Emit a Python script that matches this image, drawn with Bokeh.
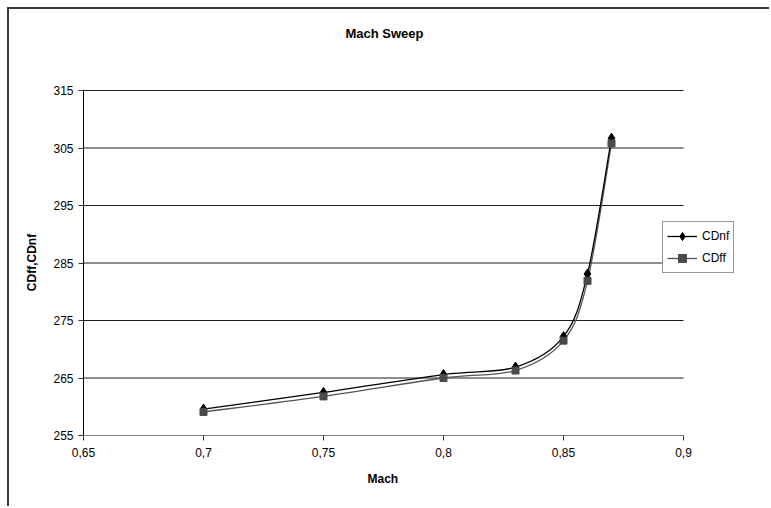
from bokeh.plotting import figure
from bokeh.models import FixedTicker, Legend, LegendItem, Title
from bokeh.embed import file_html
from bokeh.resources import INLINE

mach = [0.70, 0.75, 0.80, 0.83, 0.85, 0.86, 0.87]
cdnf = [259.6, 262.5, 265.6, 266.9, 272.2, 283.1, 306.7]
cdff = [259.1, 261.8, 265.0, 266.3, 271.5, 281.9, 305.8]
x_ticks = [0.65, 0.70, 0.75, 0.80, 0.85, 0.90]
x_tick_labels = ["0,65", "0,7", "0,75", "0,8", "0,85", "0,9"]
y_ticks = [255, 265, 275, 285, 295, 305, 315]

FONT = "Liberation Sans"

# layout (pixels)
W, H = 762, 499
LEFT, TOP, BOTTOM = 74, 80, 73
PLOT_W, PLOT_H = 600, 346          # value area 0.65..0.90 is 600 px wide
frame_w = W - LEFT
x_end = x_ticks[0] + (x_ticks[-1] - x_ticks[0]) * frame_w / PLOT_W
y_end = y_ticks[-1] + (y_ticks[-1] - y_ticks[0]) / (PLOT_H - 1)


def smooth_segments(xs, ys):
    """Bezier control points (Catmull-Rom style, as Excel's smoothed line)."""
    n = len(xs)
    out = {"x0": [], "y0": [], "x1": [], "y1": [], "cx0": [], "cy0": [], "cx1": [], "cy1": []}
    for i in range(n - 1):
        im1 = max(i - 1, 0)
        ip2 = min(i + 2, n - 1)
        out["x0"].append(xs[i]); out["y0"].append(ys[i])
        out["x1"].append(xs[i + 1]); out["y1"].append(ys[i + 1])
        out["cx0"].append(xs[i] + (xs[i + 1] - xs[im1]) / 6.0)
        out["cy0"].append(ys[i] + (ys[i + 1] - ys[im1]) / 6.0)
        out["cx1"].append(xs[i + 1] - (xs[ip2] - xs[i]) / 6.0)
        out["cy1"].append(ys[i + 1] - (ys[ip2] - ys[i]) / 6.0)
    return out


p = figure(width=W, height=H, x_range=(x_ticks[0], x_end), y_range=(y_ticks[0], y_end),
           output_backend="svg", toolbar_location=None, title=None,
           min_border_left=LEFT, min_border_right=0, min_border_top=TOP, min_border_bottom=BOTTOM)
p.styles = {"border-left": "2px solid #3a3a3a", "border-top": "2px solid #3a3a3a",
            "margin-left": "7px", "margin-top": "7px"}

p.outline_line_color = None
p.background_fill_color = "white"

# title (outer) and spacer (next to the plot area)
spacer = Title(text=" ", text_font=FONT, text_font_size="12px", standoff=33)
p.add_layout(spacer, "above")
title = Title(text="Mach Sweep", align="left", offset=262, standoff=0,
              text_font=FONT, text_font_size="13px", text_font_style="bold", text_color="black")
p.add_layout(title, "above")

# axes
p.xaxis.ticker = FixedTicker(ticks=x_ticks)
p.xaxis.major_label_overrides = {t: l for t, l in zip(x_ticks, x_tick_labels)}
p.xaxis.bounds = (x_ticks[0], x_ticks[-1])
p.yaxis.ticker = FixedTicker(ticks=y_ticks)
for ax in (p.xaxis, p.yaxis):
    ax.major_label_text_font = FONT
    ax.major_label_text_font_size = "12px"
    ax.major_label_text_color = "black"
    ax.axis_label_text_font = FONT
    ax.axis_label_text_font_size = "12px"
    ax.axis_label_text_font_style = "bold"
    ax.axis_label_text_color = "black"
    ax.major_tick_out = 5
    ax.major_tick_in = 0
    ax.minor_tick_out = 0
    ax.minor_tick_in = 0
    ax.major_tick_line_color = "#333333"
p.xaxis.axis_line_color = "#7a7a7a"
p.yaxis.axis_line_color = "black"
p.yaxis.axis_label = "CDff,CDnf"
p.xaxis.major_label_standoff = 7
p.yaxis.major_label_standoff = 5
p.yaxis.axis_label_standoff = 11

xtitle = Title(text="Mach", align="left", offset=284, standoff=24, vertical_align="top",
               text_font=FONT, text_font_size="12px", text_font_style="bold", text_color="black")
p.add_layout(xtitle, "below")

p.xgrid.grid_line_color = None
p.ygrid.grid_line_color = None
n_y = len(y_ticks)
p.segment(x0=[x_ticks[0]] * n_y, x1=[x_ticks[-1]] * n_y, y0=y_ticks, y1=y_ticks,
          line_color="#1e1e1e", line_width=1)

# series
s_nf = smooth_segments(mach, cdnf)
s_ff = smooth_segments(mach, cdff)
b_ff = p.bezier(x0=s_ff["x0"], y0=s_ff["y0"], x1=s_ff["x1"], y1=s_ff["y1"],
                cx0=s_ff["cx0"], cy0=s_ff["cy0"], cx1=s_ff["cx1"], cy1=s_ff["cy1"],
                line_color="#555555", line_width=1.3)
b_nf = p.bezier(x0=s_nf["x0"], y0=s_nf["y0"], x1=s_nf["x1"], y1=s_nf["y1"],
                cx0=s_nf["cx0"], cy0=s_nf["cy0"], cx1=s_nf["cx1"], cy1=s_nf["cy1"],
                line_color="black", line_width=1.3)
m_nf = p.scatter(mach, cdnf, marker="diamond", size=10, fill_color="black", line_color="black")
m_ff = p.scatter(mach, cdff, marker="square", size=7, fill_color="#4a4a4a", line_color="#4a4a4a")

legend = Legend(items=[LegendItem(label="CDnf", renderers=[b_nf, m_nf]),
                       LegendItem(label="CDff", renderers=[b_ff, m_ff])],
                location=(579, 162))
legend.label_text_font = FONT
legend.label_text_font_size = "12px"
legend.label_text_color = "black"
legend.border_line_color = "#333333"
legend.border_line_width = 1
legend.background_fill_color = "white"
legend.background_fill_alpha = 1
legend.padding = 4
legend.spacing = 2
legend.margin = 0
legend.glyph_width = 30
legend.glyph_height = 20
legend.label_standoff = 5
legend.label_height = 20
p.add_layout(legend, "center")

open("out.html", "w").write(file_html(p, INLINE))
